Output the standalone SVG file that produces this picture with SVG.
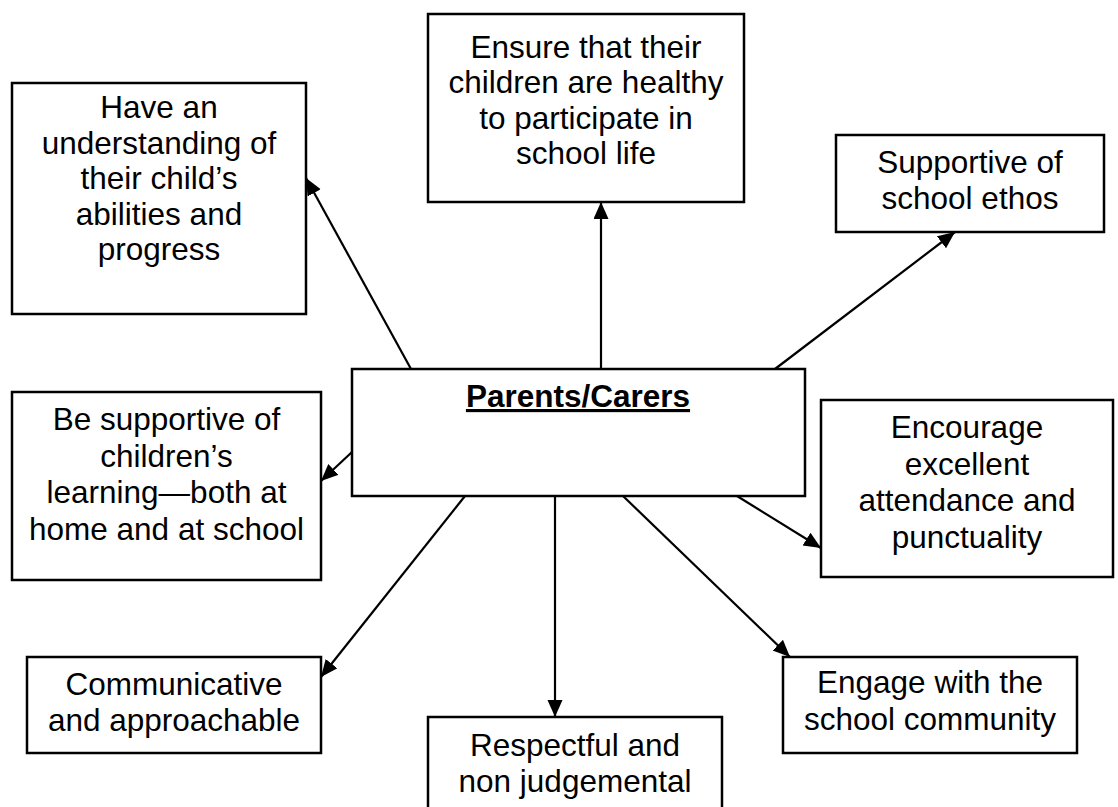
<svg xmlns="http://www.w3.org/2000/svg" width="1118" height="807" viewBox="0 0 1118 807">
<defs>
<style>
.box{fill:#fff;stroke:#000;stroke-width:2.5}
.t{font-family:"Liberation Sans",Arial,sans-serif;font-size:31.5px;fill:#000;text-anchor:middle}
.h{font-weight:bold;text-decoration:underline;text-decoration-thickness:3px;text-underline-offset:4px}
.c line{stroke:#000;stroke-width:2.2;marker-end:url(#ah)}
</style>
<marker id="ah" markerUnits="userSpaceOnUse" markerWidth="20" markerHeight="16" refX="17" refY="7.5" orient="auto">
<path d="M0,0 L17,7.5 L0,15 z" fill="#000"/>
</marker>
</defs>
<rect width="1118" height="807" fill="#fff"/>
<g id="connectors" class="c">
<line x1="411" y1="369" x2="306" y2="178"/>
<line x1="601" y1="369" x2="601" y2="202"/>
<line x1="775" y1="369" x2="955" y2="232"/>
<line x1="352" y1="452" x2="321" y2="481"/>
<line x1="465" y1="496" x2="321" y2="677"/>
<line x1="555" y1="496" x2="555" y2="717"/>
<line x1="623" y1="496" x2="790" y2="657"/>
<line x1="737" y1="496" x2="821" y2="548"/>
</g>
<g id="n-parents">
<rect class="box" x="352" y="369" width="453" height="127"/>
<text class="t h" x="578" y="407">Parents/Carers</text>
</g>
<g id="n-understanding">
<rect class="box" x="12" y="83" width="294" height="231"/>
<text class="t" x="159" y="118">Have an</text>
<text class="t" x="159" y="153.5">understanding of</text>
<text class="t" x="159" y="189">their child’s</text>
<text class="t" x="159" y="224.5">abilities and</text>
<text class="t" x="159" y="260">progress</text>
</g>
<g id="n-healthy">
<rect class="box" x="428" y="14" width="316" height="188"/>
<text class="t" x="586" y="58">Ensure that their</text>
<text class="t" x="586" y="93">children are healthy</text>
<text class="t" x="586" y="128.5">to participate in</text>
<text class="t" x="586" y="164">school life</text>
</g>
<g id="n-ethos">
<rect class="box" x="836" y="135" width="268" height="97"/>
<text class="t" x="970" y="173">Supportive of</text>
<text class="t" x="970" y="209">school ethos</text>
</g>
<g id="n-learning">
<rect class="box" x="12" y="392" width="309" height="188"/>
<text class="t" x="166.5" y="430">Be supportive of</text>
<text class="t" x="166.5" y="466.5">children’s</text>
<text class="t" x="166.5" y="503">learning—both at</text>
<text class="t" x="166.5" y="539.5">home and at school</text>
</g>
<g id="n-attendance">
<rect class="box" x="821" y="400" width="292" height="177"/>
<text class="t" x="967" y="438">Encourage</text>
<text class="t" x="967" y="474.5">excellent</text>
<text class="t" x="967" y="511">attendance and</text>
<text class="t" x="967" y="547.5">punctuality</text>
</g>
<g id="n-communicative">
<rect class="box" x="27" y="657" width="294" height="96"/>
<text class="t" x="174" y="695">Communicative</text>
<text class="t" x="174" y="731">and approachable</text>
</g>
<g id="n-respectful">
<rect class="box" x="428" y="717" width="294" height="110"/>
<text class="t" x="575" y="756">Respectful and</text>
<text class="t" x="575" y="792">non judgemental</text>
</g>
<g id="n-community">
<rect class="box" x="783" y="657" width="294" height="96"/>
<text class="t" x="930" y="693">Engage with the</text>
<text class="t" x="930" y="730">school community</text>
</g>
</svg>
